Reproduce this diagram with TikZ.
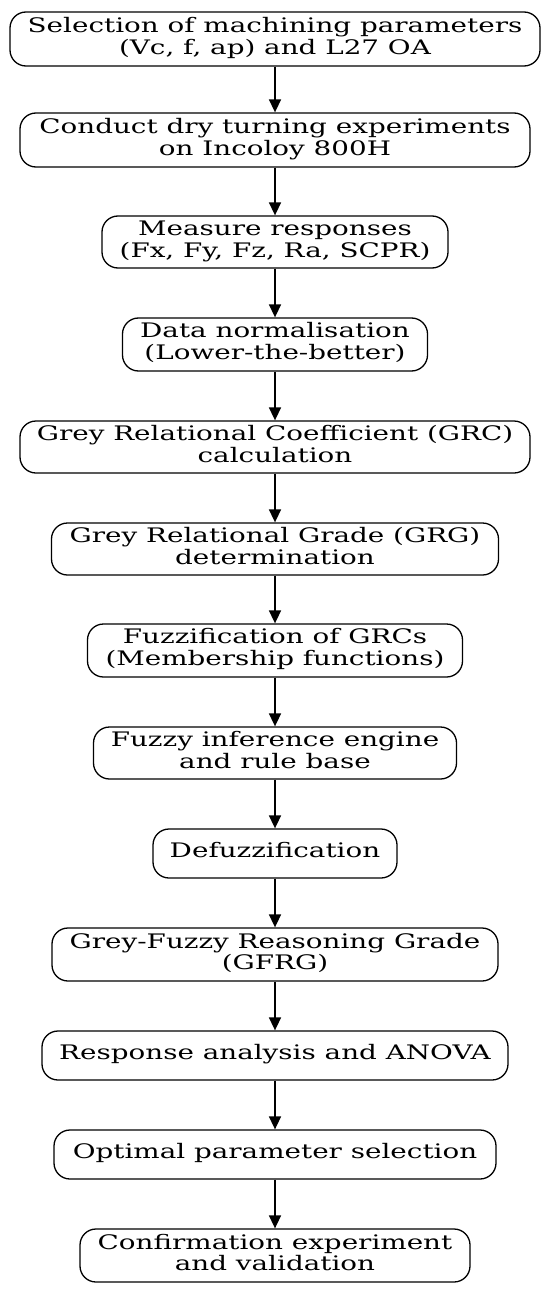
\documentclass[tikz,border=0pt]{standalone}
\usepackage{graphicx}
\usepackage{fontspec}
\setmainfont{DejaVu Serif}
\usetikzlibrary{arrows.meta}
\newcommand{\stx}[1]{\raisebox{-1.5pt}{\scalebox{1.39}[1]{\begin{tabular}{@{}c@{}}#1\end{tabular}}}}
\begin{document}
\begin{tikzpicture}[x=1pt,y=-1pt,
  stepbox/.style={draw, line width=1.3pt, rounded corners=16pt, align=center, inner sep=0pt,
    font=\fontsize{20}{21.7}\selectfont},
  flow/.style={line width=1.6pt, -{Triangle[length=13pt,width=12pt]}}]
\useasboundingbox (0,0) rectangle (550,1292);
\node[stepbox, minimum width=530pt, minimum height=54pt] (n1) at (275,39) {\stx{Selection of machining parameters\\(Vc, f, ap) and L27 OA}};
\node[stepbox, minimum width=510pt, minimum height=54pt] (n2) at (275,140) {\stx{Conduct dry turning experiments\\on Incoloy 800H}};
\node[stepbox, minimum width=346pt, minimum height=52pt] (n3) at (275,242) {\stx{Measure responses\\(Fx, Fy, Fz, Ra, SCPR)}};
\node[stepbox, minimum width=305pt, minimum height=53pt] (n4) at (275,344.5) {\stx{Data normalisation\\(Lower-the-better)}};
\node[stepbox, minimum width=510pt, minimum height=52pt] (n5) at (275,447) {\stx{Grey Relational Coefficient (GRC)\\calculation}};
\node[stepbox, minimum width=447pt, minimum height=52pt] (n6) at (275,549) {\stx{Grey Relational Grade (GRG)\\determination}};
\node[stepbox, minimum width=375pt, minimum height=53pt] (n7) at (275,650.5) {\stx{Fuzzification of GRCs\\(Membership functions)}};
\node[stepbox, minimum width=363pt, minimum height=52pt] (n8) at (275,753) {\stx{Fuzzy inference engine\\and rule base}};
\node[stepbox, minimum width=244pt, minimum height=49pt] (n9) at (275,853.5) {\stx{Defuzzification}};
\node[stepbox, minimum width=446pt, minimum height=53pt] (n10) at (275,954.5) {\stx{Grey-Fuzzy Reasoning Grade\\(GFRG)}};
\node[stepbox, minimum width=466pt, minimum height=49pt] (n11) at (275,1055.5) {\stx{Response analysis and ANOVA}};
\node[stepbox, minimum width=442pt, minimum height=49pt] (n12) at (275,1154.5) {\stx{Optimal parameter selection}};
\node[stepbox, minimum width=390pt, minimum height=53pt] (n13) at (275,1255.5) {\stx{Confirmation experiment\\and validation}};
\foreach \a/\b in {n1/n2,n2/n3,n3/n4,n4/n5,n5/n6,n6/n7,n7/n8,n8/n9,n9/n10,n10/n11,n11/n12,n12/n13}
  \draw[flow] (\a.south) -- (\b.north);
\end{tikzpicture}
\end{document}
